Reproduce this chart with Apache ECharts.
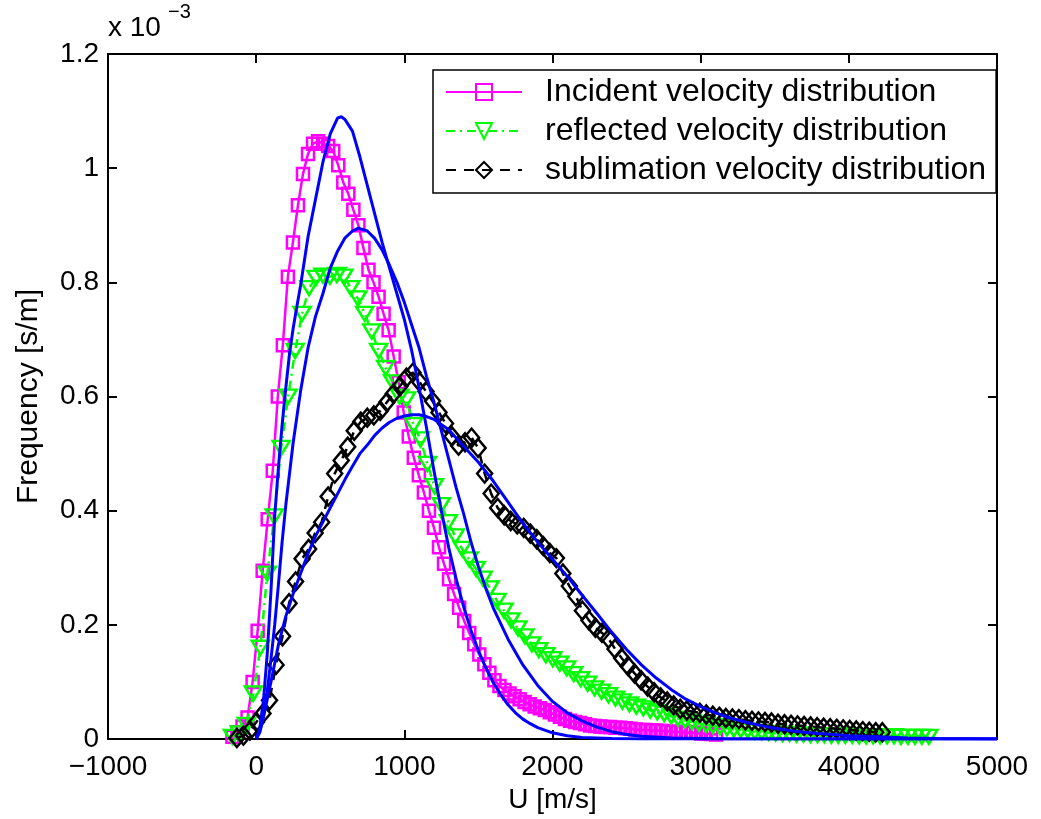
<!DOCTYPE html>
<html>
<head>
<meta charset="utf-8">
<script src="https://cdn.jsdelivr.net/npm/echarts@6/dist/echarts.min.js"></script>
<style>
  html, body { margin: 0; padding: 0; background: #fff; }
  #chart { width: 1041px; height: 819px; }
</style>
</head>
<body>
<div id="chart"></div>
<script>
// ---------- DATA (frequency values in units of 1e-3 s/m) ----------
const xTicks = [-1000, 0, 1000, 2000, 3000, 4000, 5000];
const yTicks = [0, 0.2, 0.4, 0.6, 0.8, 1, 1.2];
const seriesNames = ['Incident velocity distribution', 'reflected velocity distribution', 'sublimation velocity distribution'];

// histogram bins (velocity, m/s)
const incidentBinStart = -160, incidentBinWidth = 34;
const reflectedBinStart = -160, reflectedBinWidth = 47;
const sublimationBinStart = -130, sublimationBinWidth = 44;

const incidentY = [0.004,0.012,0.022,0.038,0.1,0.19,0.295,0.385,0.47,0.6,0.69,0.81,0.87,0.935,0.99,1.025,1.043,1.047,1.043,1.039,
  1.03,1.005,0.975,0.955,0.927,0.9,0.86,0.822,0.8,0.775,0.745,0.716,0.67,0.625,0.572,0.53,0.493,0.462,0.432,0.4,
  0.37,0.336,0.307,0.28,0.254,0.23,0.207,0.186,0.166,0.148,0.131,0.116,0.103,0.093,0.086,0.08,0.075,0.07,0.065,0.061,
  0.057,0.054,0.051,0.047,0.043,0.039,0.035,0.032,0.03,0.028,0.026,0.024,0.023,0.022,0.021,0.021,0.02,0.02,0.019,0.018,
  0.017,0.016,0.016,0.015,0.015,0.014,0.014,0.013,0.013,0.012,0.012,0.011,0.011,0.01,0.01,0.009,0.008];

const reflectedY = [0.004,0.01,0.025,0.08,0.16,0.29,0.39,0.51,0.6,0.68,0.745,0.79,0.808,0.812,0.81,0.813,0.81,0.79,0.772,0.745,
  0.714,0.68,0.65,0.625,0.6,0.595,0.55,0.525,0.482,0.443,0.41,0.38,0.355,0.333,0.315,0.298,0.281,0.264,0.242,0.225,
  0.208,0.194,0.18,0.166,0.156,0.147,0.14,0.132,0.124,0.114,0.105,0.097,0.089,0.083,0.077,0.071,0.066,0.061,0.057,0.054,
  0.05,0.047,0.044,0.04,0.036,0.033,0.03,0.027,0.025,0.023,0.021,0.019,0.017,0.016,0.015,0.013,0.012,0.011,0.01,0.009,
  0.009,0.008,0.008,0.007,0.007,0.007,0.006,0.006,0.006,0.006,0.005,0.005,0.005,0.005,0.005,0.005,0.004,0.004,0.004,0.004,0.004];

const sublimationY = [0.002,0.006,0.015,0.03,0.045,0.068,0.13,0.18,0.238,0.276,0.316,0.333,0.361,0.38,0.425,0.465,0.488,0.512,0.54,0.556,
  0.563,0.567,0.575,0.59,0.605,0.618,0.633,0.642,0.626,0.609,0.592,0.572,0.553,0.53,0.514,0.52,0.528,0.51,0.465,0.43,
  0.405,0.392,0.382,0.376,0.37,0.36,0.35,0.338,0.326,0.317,0.29,0.268,0.25,0.225,0.208,0.195,0.186,0.176,0.158,0.142,
  0.128,0.115,0.103,0.092,0.082,0.073,0.066,0.059,0.053,0.05,0.048,0.046,0.043,0.041,0.039,0.037,0.036,0.035,0.033,0.032,
  0.031,0.03,0.029,0.027,0.026,0.025,0.024,0.023,0.022,0.021,0.02,0.019,0.018,0.017,0.016,0.015,0.014,0.013,0.012,0.012];

// fitted curves (blue)
const fitIncidentX = [0,25,50,75,100,125,150,175,200,225,250,275,300,350,400,450,500,550,575,600,650,700,750,800,850,900,950,1000,1050,1100,1150,1200,1250,1300,1350,1400,1450,1500,1550,1600,1650,1700,1750,1800,1850,1900,2000,2100,2200,2400,2600,5000];
const fitIncidentY = [0,0.02,0.07,0.15,0.26,0.39,0.475,0.55,0.615,0.675,0.72,0.758,0.795,0.88,0.945,1.01,1.06,1.088,1.09,1.085,1.065,1.02,0.97,0.92,0.87,0.825,0.78,0.735,0.68,0.615,0.545,0.47,0.4,0.335,0.28,0.232,0.19,0.155,0.125,0.099,0.078,0.06,0.046,0.035,0.027,0.02,0.011,0.006,0.003,0.001,0,0];

const fitReflectedX = [0,25,50,75,100,125,150,175,200,250,300,350,400,450,500,550,600,650,690,750,800,850,900,950,1000,1050,1100,1150,1200,1250,1300,1350,1400,1450,1500,1550,1600,1700,1800,1900,2000,2100,2200,2300,2400,2500,2600,2800,3000,3200,5000];
const fitReflectedY = [0,0.012,0.04,0.085,0.14,0.2,0.27,0.345,0.41,0.52,0.61,0.685,0.74,0.78,0.825,0.855,0.878,0.89,0.895,0.89,0.877,0.857,0.83,0.8,0.765,0.725,0.685,0.635,0.59,0.54,0.49,0.44,0.395,0.345,0.302,0.264,0.23,0.175,0.13,0.094,0.066,0.046,0.032,0.021,0.013,0.008,0.005,0.002,0.001,0,0];

const fitSublimationX = [0,25,50,75,100,150,200,250,300,350,400,450,500,550,600,650,700,750,800,850,900,950,1000,1050,1100,1150,1200,1300,1400,1500,1600,1700,1800,1900,2000,2100,2200,2300,2400,2500,2600,2700,2800,2900,3000,3100,3200,3300,3400,3500,3600,3700,3800,3900,4000,4200,4400,4600,5000];
const fitSublimationY = [0,0.015,0.04,0.07,0.1,0.165,0.215,0.255,0.29,0.325,0.355,0.38,0.405,0.43,0.455,0.478,0.5,0.515,0.532,0.545,0.555,0.562,0.566,0.568,0.568,0.565,0.56,0.542,0.513,0.485,0.452,0.415,0.378,0.345,0.315,0.285,0.252,0.22,0.187,0.157,0.13,0.107,0.087,0.07,0.057,0.046,0.037,0.03,0.024,0.019,0.015,0.012,0.01,0.008,0.006,0.004,0.002,0.001,0];

// ---------- BUILD ----------
const binned = (start, width, ys) => ys.map((y, i) => [start + i * width, y]);
const paired = (xs, ys) => xs.map((x, i) => [x, ys[i]]);

const FONT = 'Liberation Sans, Arial, Helvetica, sans-serif';
const chart = echarts.init(document.getElementById('chart'), null, { renderer: 'canvas' });

const axisCommon = {
  axisLine: { onZero: false, lineStyle: { color: '#000', width: 2 } },
  axisTick: { inside: true, length: 9, lineStyle: { color: '#000', width: 2 } },
  splitLine: { show: false }
};

const hollow = (c) => ({ color: 'rgba(255,255,255,0)', borderColor: c, borderWidth: 2.5 });

const option = {
  animation: false,
  backgroundColor: '#fff',
  grid: { left: 108, right: 44, top: 54, bottom: 79, containLabel: false },
  xAxis: [
    Object.assign({
      type: 'value', position: 'bottom',
      min: xTicks[0], max: xTicks[xTicks.length - 1], interval: xTicks[1] - xTicks[0],
      axisLabel: { color: '#000', fontSize: 28, fontFamily: FONT, margin: 14,
        formatter: v => String(v).replace('-', '\u2212') },
      name: 'U [m/s]', nameLocation: 'middle', nameGap: 46,
      nameTextStyle: { color: '#000', fontSize: 28, fontFamily: FONT }
    }, axisCommon),
    Object.assign({
      type: 'value', position: 'top',
      min: xTicks[0], max: xTicks[xTicks.length - 1], interval: xTicks[1] - xTicks[0],
      axisLabel: { show: false }
    }, axisCommon)
  ],
  yAxis: [
    Object.assign({
      type: 'value', position: 'left',
      min: yTicks[0], max: yTicks[yTicks.length - 1], interval: yTicks[1] - yTicks[0],
      axisLabel: { color: '#000', fontSize: 28, fontFamily: FONT, margin: 9 },
      name: 'Frequency [s/m]', nameLocation: 'middle', nameGap: 64,
      nameTextStyle: { color: '#000', fontSize: 30, fontFamily: FONT }
    }, axisCommon),
    Object.assign({
      type: 'value', position: 'right',
      min: yTicks[0], max: yTicks[yTicks.length - 1], interval: yTicks[1] - yTicks[0],
      axisLabel: { show: false }
    }, axisCommon)
  ],
  legend: {
    data: seriesNames,
    orient: 'vertical',
    left: 433, top: 70,
    backgroundColor: '#fff',
    borderColor: '#000', borderWidth: 1.5, borderRadius: 0,
    padding: [6, 10, 7, 12],
    itemGap: 7,
    itemWidth: 76, itemHeight: 20,
    textStyle: { color: '#000', fontSize: 32, fontFamily: FONT, lineHeight: 32, padding: [0, 0, 0, 18] },
    selectedMode: false
  },
  graphic: [
    { type: 'text', left: 108, top: 14, style: { text: 'x 10', fontSize: 28, fontFamily: FONT, fill: '#000' } },
    { type: 'text', left: 168, top: 2, style: { text: '\u22123', fontSize: 20, fontFamily: FONT, fill: '#000' } }
  ],
  series: [
    {
      name: seriesNames[0], type: 'line', data: binned(incidentBinStart, incidentBinWidth, incidentY),
      symbol: 'rect', symbolSize: 12, showAllSymbol: true,
      lineStyle: { color: '#ff00ff', width: 2.5, type: 'solid' },
      itemStyle: hollow('#ff00ff'), emphasis: { disabled: true }, z: 2
    },
    {
      name: seriesNames[1], type: 'line', data: binned(reflectedBinStart, reflectedBinWidth, reflectedY),
      symbol: 'triangle', symbolRotate: 180, symbolSize: [17, 14], showAllSymbol: true,
      lineStyle: { color: '#00ff00', width: 2.5, type: [9, 5, 2, 5] },
      itemStyle: hollow('#00ff00'), emphasis: { disabled: true }, z: 3
    },
    {
      name: seriesNames[2], type: 'line', data: binned(sublimationBinStart, sublimationBinWidth, sublimationY),
      symbol: 'diamond', symbolSize: [15, 18], showAllSymbol: true,
      lineStyle: { color: '#000000', width: 2.5, type: [10, 8] },
      itemStyle: hollow('#000000'), emphasis: { disabled: true }, z: 4
    },
    {
      name: 'fit1', type: 'line', data: paired(fitIncidentX, fitIncidentY), showSymbol: false,
      lineStyle: { color: '#0000ff', width: 3 }, emphasis: { disabled: true }, z: 5
    },
    {
      name: 'fit2', type: 'line', data: paired(fitReflectedX, fitReflectedY), showSymbol: false,
      lineStyle: { color: '#0000ff', width: 3 }, emphasis: { disabled: true }, z: 5
    },
    {
      name: 'fit3', type: 'line', data: paired(fitSublimationX, fitSublimationY), showSymbol: false,
      lineStyle: { color: '#0000ff', width: 3 }, emphasis: { disabled: true }, z: 5
    }
  ]
};
chart.setOption(option);
</script>
</body>
</html>
